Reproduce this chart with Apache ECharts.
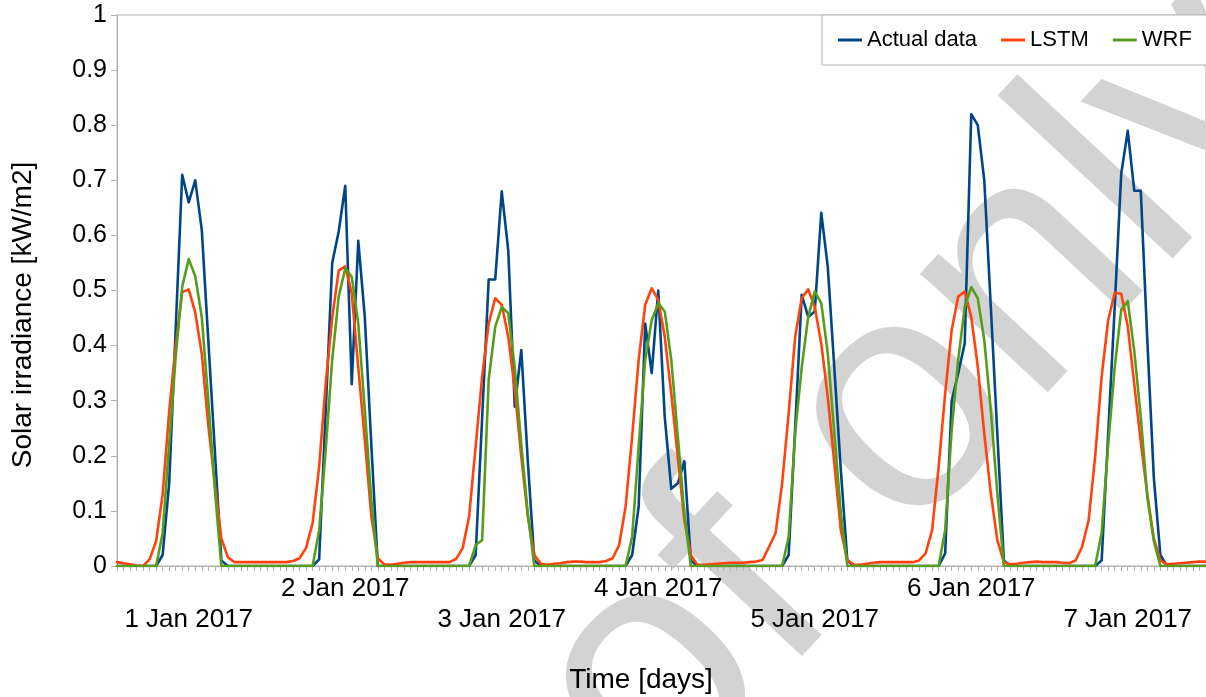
<!DOCTYPE html>
<html>

<head>
    <meta charset="utf-8" />
    <title>Solar irradiance</title>
    <script src="https://cdn.jsdelivr.net/npm/echarts@6/dist/echarts.min.js"></script>
</head>

<body style="margin: 0; background: #fff">
    <div id="main" style="width: 1206px; height: 697px"></div>
    <script type="text/javascript">
        // hourly values, 1 Jan 2017 00:00 .. 7 Jan 2017 23:00 (24 per row)
        var actual = [
            0, 0, 0, 0, 0, 0, 0, 0.02, 0.15, 0.43, 0.71, 0.66, 0.70, 0.61, 0.41, 0.21, 0.01, 0, 0, 0, 0, 0, 0, 0,
            0, 0, 0, 0, 0, 0, 0, 0.012, 0.28, 0.55, 0.607, 0.69, 0.33, 0.59, 0.452, 0.22, 0, 0, 0, 0, 0, 0, 0, 0,
            0, 0, 0, 0, 0, 0, 0, 0.02, 0.27, 0.52, 0.52, 0.68, 0.573, 0.289, 0.392, 0.19, 0.01, 0, 0, 0, 0, 0, 0, 0,
            0, 0, 0, 0, 0, 0, 0, 0.02, 0.108, 0.44, 0.35, 0.50, 0.27, 0.14, 0.15, 0.19, 0.01, 0, 0, 0, 0, 0, 0, 0,
            0, 0, 0, 0, 0, 0, 0, 0.02, 0.25, 0.492, 0.452, 0.462, 0.641, 0.543, 0.36, 0.174, 0.01, 0, 0, 0, 0, 0, 0, 0,
            0, 0, 0, 0, 0, 0, 0, 0.023, 0.30, 0.35, 0.404, 0.82, 0.80, 0.70, 0.47, 0.24, 0.01, 0, 0, 0, 0, 0, 0, 0,
            0, 0, 0, 0, 0, 0, 0, 0.01, 0.24, 0.47, 0.712, 0.79, 0.681, 0.681, 0.41, 0.16, 0.02, 0, 0, 0, 0, 0, 0, 0
        ];
        var lstm = [
            0.007, 0.005, 0.003, 0.001, 0, 0.012, 0.045, 0.13, 0.28, 0.40, 0.497, 0.502, 0.46, 0.385, 0.255, 0.15, 0.05, 0.016, 0.007, 0.007, 0.007, 0.007, 0.007, 0.007,
            0.007, 0.007, 0.007, 0.009, 0.014, 0.033, 0.078, 0.18, 0.33, 0.45, 0.536, 0.544, 0.495, 0.36, 0.23, 0.09, 0.014, 0.003, 0.002, 0.004, 0.006, 0.007, 0.007, 0.007,
            0.007, 0.007, 0.007, 0.007, 0.013, 0.032, 0.09, 0.217, 0.344, 0.44, 0.486, 0.474, 0.416, 0.32, 0.198, 0.09, 0.02, 0.004, 0.002, 0.004, 0.005, 0.007, 0.008, 0.008,
            0.007, 0.007, 0.007, 0.009, 0.014, 0.038, 0.108, 0.235, 0.374, 0.474, 0.504, 0.483, 0.416, 0.313, 0.198, 0.083, 0.02, 0.002, 0.002, 0.003, 0.004, 0.005, 0.006, 0.006,
            0.006, 0.007, 0.008, 0.011, 0.035, 0.06, 0.15, 0.277, 0.416, 0.486, 0.502, 0.47, 0.404, 0.307, 0.187, 0.065, 0.011, 0.002, 0.002, 0.004, 0.006, 0.007, 0.007, 0.007,
            0.007, 0.007, 0.007, 0.01, 0.023, 0.065, 0.18, 0.313, 0.428, 0.489, 0.498, 0.452, 0.362, 0.24, 0.132, 0.047, 0.007, 0.003, 0.004, 0.006, 0.007, 0.008, 0.007, 0.007,
            0.007, 0.006, 0.005, 0.01, 0.035, 0.083, 0.198, 0.344, 0.446, 0.496, 0.494, 0.435, 0.33, 0.225, 0.13, 0.05, 0.01, 0.003, 0.004, 0.005, 0.006, 0.007, 0.008, 0.008
        ];
        var wrf = [
            0, 0, 0, 0, 0, 0, 0, 0.06, 0.22, 0.38, 0.507, 0.557, 0.526, 0.452, 0.30, 0.14, 0, 0, 0, 0, 0, 0, 0, 0,
            0, 0, 0, 0, 0, 0, 0, 0.065, 0.21, 0.374, 0.489, 0.54, 0.525, 0.44, 0.283, 0.12, 0, 0, 0, 0, 0, 0, 0, 0,
            0, 0, 0, 0, 0, 0, 0, 0.038, 0.047, 0.338, 0.434, 0.47, 0.459, 0.36, 0.22, 0.095, 0, 0, 0, 0, 0, 0, 0, 0,
            0, 0, 0, 0, 0, 0, 0, 0.053, 0.217, 0.374, 0.446, 0.477, 0.462, 0.374, 0.235, 0.096, 0, 0, 0, 0, 0, 0, 0, 0,
            0, 0, 0, 0, 0, 0, 0, 0.053, 0.241, 0.36, 0.452, 0.498, 0.477, 0.386, 0.241, 0.096, 0, 0, 0, 0, 0, 0, 0, 0,
            0, 0, 0, 0, 0, 0, 0, 0.065, 0.247, 0.374, 0.47, 0.506, 0.486, 0.41, 0.283, 0.132, 0, 0, 0, 0, 0, 0, 0, 0,
            0, 0, 0, 0, 0, 0, 0, 0.06, 0.22, 0.36, 0.465, 0.481, 0.39, 0.27, 0.125, 0.045, 0, 0, 0, 0, 0, 0, 0, 0
        ];
        var dayLabels = ["1 Jan 2017", "2 Jan 2017", "3 Jan 2017", "4 Jan 2017", "5 Jan 2017", "6 Jan 2017", "7 Jan 2017"];
        var seriesNames = ["Actual data", "LSTM", "WRF"];

        var hours = [];
        for (var i = 0; i < actual.length; i++) {
            hours.push(String(i));
        }

        var font = "Liberation Sans";
        var axisGray = "#b3b3b3";

        var myChart = echarts.init(document.getElementById("main"));

        var option = {
            animation: false,
            backgroundColor: "#fff",
            color: ["#004586", "#ff420e", "#579d1c"],
            grid: {
                left: 117,
                right: -4,
                top: 15,
                bottom: 131,
                show: true,
                borderColor: axisGray,
                borderWidth: 1,
            },
            legend: {
                data: seriesNames,
                left: 822,
                top: 15,
                width: 420,
                padding: [14, 22, 14, 16],
                backgroundColor: "#fff",
                borderColor: axisGray,
                borderWidth: 1,
                icon: "rect",
                itemWidth: 24,
                itemHeight: 3,
                itemGap: 24,
                textStyle: { fontFamily: font, fontSize: 22, color: "#000" },
            },
            xAxis: {
                type: "category",
                data: hours,
                boundaryGap: false,
                axisLine: { lineStyle: { color: axisGray } },
                axisTick: { show: true, interval: 0, length: 5, lineStyle: { color: axisGray } },
                axisLabel: {
                    interval: function (index) {
                        return index % 24 === 11;
                    },
                    margin: 7,
                    formatter: function (value, index) {
                        var d = Math.floor(Number(value) / 24);
                        // odd days drop to a second row
                        return d % 2 === 0 ? "\n" + dayLabels[d] : dayLabels[d];
                    },
                    lineHeight: 31,
                    fontFamily: font,
                    fontSize: 26,
                    color: "#000",
                },
                splitLine: { show: false },
            },
            yAxis: {
                type: "value",
                min: 0,
                max: 1,
                interval: 0.1,
                axisLine: { show: true, lineStyle: { color: axisGray } },
                axisTick: { show: true, length: 6, lineStyle: { color: axisGray } },
                axisLabel: { margin: 10, fontFamily: font, fontSize: 25, color: "#000" },
                splitLine: { show: false },
            },
            graphic: [
                {
                    type: "text",
                    x: 240,
                    y: 1125,
                    rotation: (47 * Math.PI) / 180,
                    z: 0,
                    silent: true,
                    style: {
                        text: "Proof only",
                        fontFamily: font,
                        fontSize: 330,
                        fill: "#d3d3d3",
                        align: "left",
                        verticalAlign: "middle",
                    },
                },
                {
                    type: "text",
                    x: 23,
                    y: 315,
                    rotation: Math.PI / 2,
                    style: {
                        text: "Solar irradiance [kW/m2]",
                        fontFamily: font,
                        fontSize: 28,
                        fill: "#000",
                        align: "center",
                        verticalAlign: "middle",
                    },
                },
                {
                    type: "text",
                    x: 641,
                    y: 680,
                    style: {
                        text: "Time [days]",
                        fontFamily: font,
                        fontSize: 28,
                        fill: "#000",
                        align: "center",
                        verticalAlign: "middle",
                    },
                },
            ],
            series: [
                { name: seriesNames[0], type: "line", data: actual },
                { name: seriesNames[1], type: "line", data: lstm },
                { name: seriesNames[2], type: "line", data: wrf },
            ].map(function (s) {
                s.symbol = "none";
                s.lineStyle = { width: 2.6, join: "round", cap: "round" };
                return s;
            }),
        };

        myChart.setOption(option);
    </script>
</body>

</html>
